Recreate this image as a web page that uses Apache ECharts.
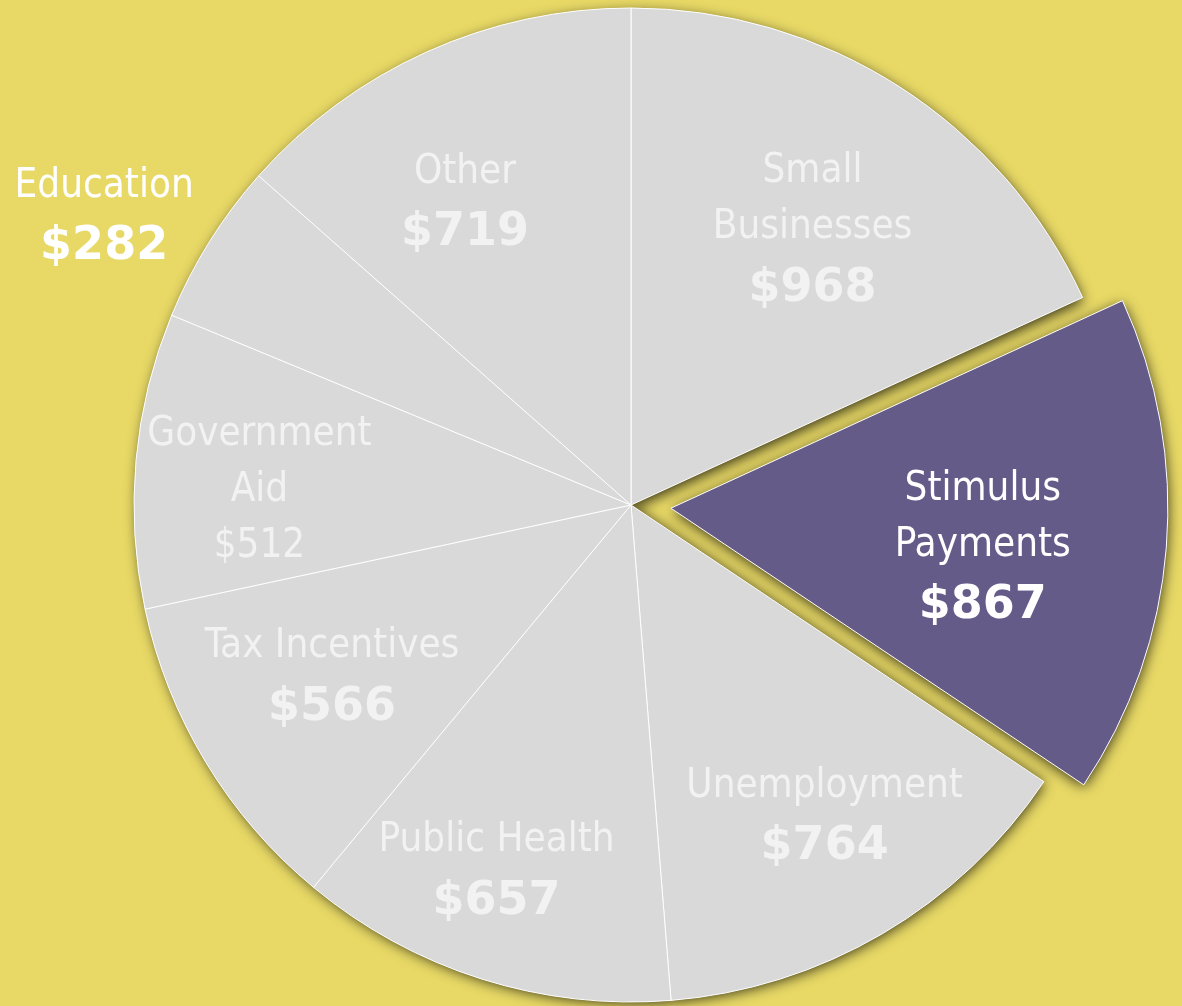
<!DOCTYPE html>
<html>
<head>
    <meta charset="utf-8"/>
    <title>ECharts</title>
    <script src="https://cdn.jsdelivr.net/npm/echarts@6/dist/echarts.min.js"></script>
    <style>
        html, body { margin: 0; padding: 0; background: #E8D966; }
    </style>
</head>
<body>
<div id="main" style="width: 1182px;height:1006px;"></div>
<script type="text/javascript">
    // 数据
    var names = ['Small\nBusinesses', 'Stimulus\nPayments', 'Unemployment', 'Public Health',
        'Tax Incentives', 'Government\nAid', 'Education', 'Other'];
    var values = [968, 867, 764, 657, 566, 512, 282, 719];

    // 标签微调 (px)
    var labelShift = [[-9, 25], [-40, 14], [15, 10], [-28, 32], [3, -8], [-20, 17], [8, -11], [-21, 22]];

    var narrow = '"DejaVu Sans Condensed", "Liberation Sans", sans-serif';
    var wide = '"DejaVu Sans", sans-serif';

    var myChart = echarts.init(document.getElementById('main'));

    function richFor(color, boldValue) {
        return {
            n: { fontFamily: narrow, fontSize: 40, lineHeight: 56, color: color, align: 'center' },
            v: { fontFamily: boldValue ? wide : narrow, fontWeight: boldValue ? 'bold' : 'normal',
                 fontSize: boldValue ? 46 : 40, lineHeight: boldValue ? 66 : 56, color: color, align: 'center' }
        };
    }

    var shadowData = [];
    var pieData = [];
    var labelData = [];
    for (var i = 0; i < names.length; i++) {
        var isStim = i === 1;
        var isEdu = names[i] === 'Education';
        var plainValue = names[i] === 'Government\nAid';
        var txtColor = isStim || isEdu ? '#FFFFFF' : '#F2F2F2';
        var lbl = {
            formatter: '{n|{b}}\n{v|${c}}',
            offset: labelShift[i],
            rich: richFor(txtColor, !plainValue)
        };
        shadowData.push({ name: names[i], value: values[i], selected: isStim });
        pieData.push({
            name: names[i],
            value: values[i],
            selected: isStim,
            itemStyle: { color: isStim ? '#655B88' : '#D9D9D9' },
            label: echarts.util.extend({ show: isEdu, position: 'outside' }, lbl),
            select: { label: echarts.util.extend({ show: isEdu }, lbl) },
            labelLine: { show: false, length: 22, length2: 0 }
        });
        labelData.push({
            name: names[i],
            value: values[i],
            selected: isStim,
            label: echarts.util.extend({ show: !isEdu }, lbl),
            select: { label: echarts.util.extend({ show: !isEdu }, lbl) }
        });
    }

    var common = {
        type: 'pie',
        center: [631, 505],
        startAngle: 90,
        clockwise: true,
        selectedMode: 'single',
        selectedOffset: 40,
        silent: true,
        avoidLabelOverlap: false,
        animation: false
    };

    var shadowStyle = {
        color: '#8A7F3A',
        borderWidth: 0,
        shadowBlur: 14,
        shadowOffsetX: 2,
        shadowOffsetY: 3,
        shadowColor: 'rgba(0,0,0,0.8)'
    };

    var option = {
        backgroundColor: '#E8D966',
        series: [
            // 阴影层
            echarts.util.merge({
                radius: [0, 495],
                itemStyle: shadowStyle,
                select: { itemStyle: shadowStyle },
                label: { show: false },
                labelLine: { show: false },
                data: shadowData
            }, common),
            echarts.util.merge({
                radius: [0, 497],
                itemStyle: { borderColor: '#FFFFFF', borderWidth: 1 },
                label: { alignTo: 'none' },
                data: pieData
            }, common),
            // 透明的标签层
            echarts.util.merge({
                radius: [0, 700],
                itemStyle: { color: 'rgba(0,0,0,0)', borderWidth: 0 },
                label: { position: 'inside' },
                labelLine: { show: false },
                data: labelData
            }, common)
        ]
    };

    myChart.setOption(option);
</script>
</body>
</html>
